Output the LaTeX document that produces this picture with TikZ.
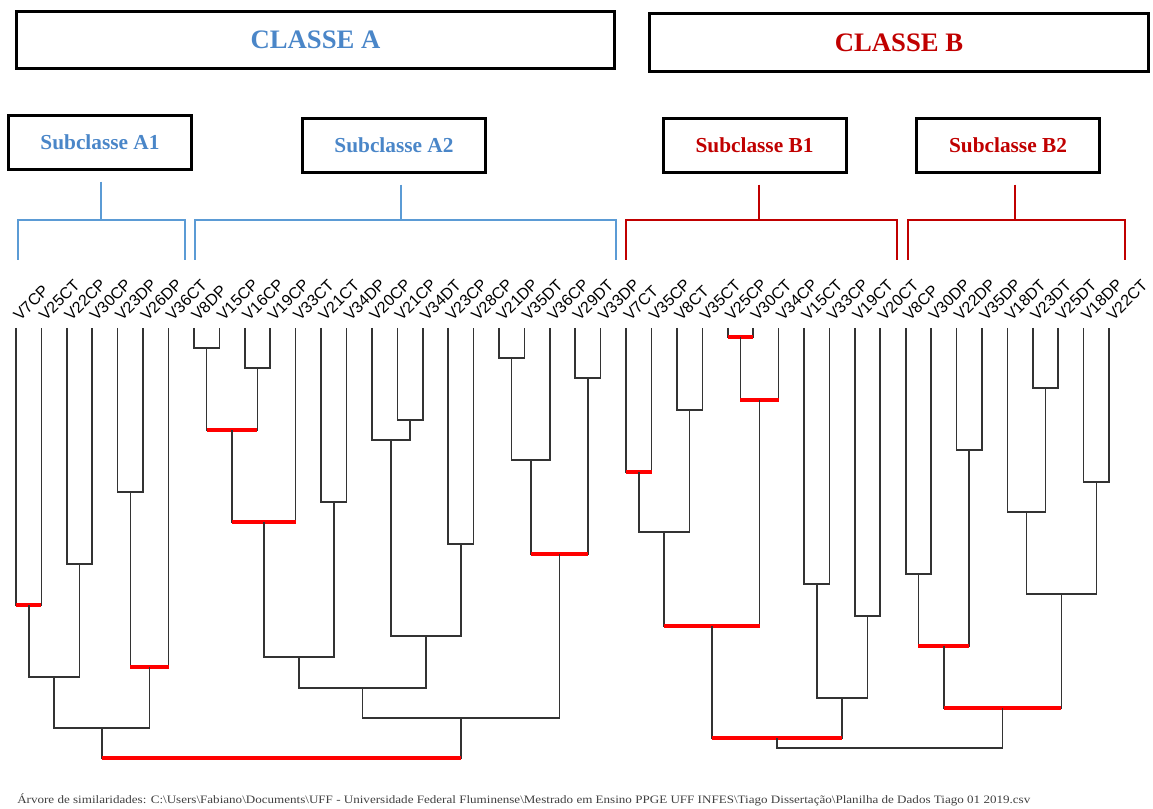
\documentclass[tikz,border=0pt]{standalone}
\usepackage{fontspec}
\setmainfont{Liberation Serif}
\newfontfamily\lblfont{Liberation Sans}
\usetikzlibrary{calc}
\definecolor{ablue}{HTML}{4A86C8}
\definecolor{bblue}{HTML}{5B9BD5}
\definecolor{cred}{HTML}{C00000}
\definecolor{tgray}{HTML}{333333}
\definecolor{ftgray}{HTML}{404040}
\newcommand\mrg[4]{%
  \coordinate (#3) at ($(#1 |- 0,#4)!0.5!(#2 |- 0,#4)$);
  \draw[tree] (#1) |- (#3) -| (#2);}
\newcommand\mrgr[4]{\mrg{#1}{#2}{#3}{#4}\draw[redbar] (#1 |- #3) -- (#2 |- #3);}
\begin{document}
\begin{tikzpicture}[x=0.75pt,y=-0.75pt,
  tree/.style={draw=tgray,line width=1.2pt},
  redbar/.style={draw=red,line width=3pt},
  hbox/.style={draw=black,line width=2.25pt,inner sep=0pt,font=\bfseries\fontsize{20}{24}\selectfont},
  sbox/.style={draw=black,line width=2.25pt,minimum width=137.25pt,minimum height=40.5pt,inner sep=0pt,font=\bfseries\fontsize{16}{19}\selectfont},
  lbl/.style={font=\lblfont\fontsize{12}{14}\selectfont,rotate=45,anchor=base west,inner sep=0pt},
  brA/.style={draw=bblue,line width=2pt},
  brB/.style={draw=cred,line width=2pt}]
\path[use as bounding box] (0,0) rectangle (1153,809);
% headers
\node[hbox,minimum width=448.5pt,minimum height=42.75pt,text=ablue] (CA) at (315.5,40) {CLASSE A};
\node[hbox,minimum width=374.25pt,minimum height=43.5pt,text=cred] (CB) at (899,42.5) {CLASSE B};
\node[sbox,text=ablue] (SA1) at (100,142.5) {Subclasse A1};
\node[sbox,text=ablue] (SA2) at (394,145.5) {Subclasse A2};
\node[sbox,text=cred] (SB1) at (754.5,145.5) {Subclasse B1};
\node[sbox,text=cred] (SB2) at (1008,145.5) {Subclasse B2};
% brackets
\coordinate (ka1) at (101,220); \coordinate (ka1L) at (18,260); \coordinate (ka1R) at (185,260);
\coordinate (ka2) at (401,220); \coordinate (ka2L) at (195,260); \coordinate (ka2R) at (616,260);
\coordinate (kb1) at (759,220); \coordinate (kb1L) at (626,260); \coordinate (kb1R) at (897,260);
\coordinate (kb2) at (1015,220); \coordinate (kb2L) at (908,260); \coordinate (kb2R) at (1125,260);
\draw[brA,shorten <=8pt] (SA1.south -| ka1) -- (ka1);
\draw[brA,shorten <=8pt] (SA2.south -| ka2) -- (ka2);
\draw[brB,shorten <=8pt] (SB1.south -| kb1) -- (kb1);
\draw[brB,shorten <=8pt] (SB2.south -| kb2) -- (kb2);
\draw[brA] (ka1L) |- (ka1) -| (ka1R);
\draw[brA] (ka2L) |- (ka2) -| (ka2R);
\draw[brB] (kb1L) |- (kb1) -| (kb1R);
\draw[brB] (kb2L) |- (kb2) -| (kb2R);
% leaves
\foreach \n [count=\i from 0] in {V7CP,V25CT,V22CP,V30CP,V23DP,V26DP,V36CT,V8DP,V15CP,V16CP,V19CP,V33CT,V21CT,V34DP,V20CP,V21CP,V34DT,V23CP,V28CP,V21DP,V35DT,V36CP,V29DT,V33DP,V7CT,V35CP,V8CT,V35CT,V25CP,V30CT,V34CP,V15CT,V33CP,V19CT,V20CT,V8CP,V30DP,V22DP,V35DP,V18DT,V23DT,V25DT,V18DP,V22CT}{
  \coordinate (l\i) at ({16+25.42*\i},328);
  \node[lbl] (t\i) at ({20+25.42*\i},322) {\n};
}
% class A1
\mrgr{l0}{l1}{a1}{605}
\mrg{l2}{l3}{a2}{564}
\mrg{l4}{l5}{a3}{492}
\mrgr{a3}{l6}{a4}{667}
\mrg{a1}{a2}{a5}{677}
\mrg{a5}{a4}{a6}{728}
% class A2
\mrg{l7}{l8}{b1}{348}
\mrg{l9}{l10}{b2}{368}
\mrgr{b1}{b2}{b3}{430}
\mrgr{b3}{l11}{b4}{522}
\mrg{l12}{l13}{b5}{502}
\mrg{b4}{b5}{b6}{657}
\mrg{l15}{l16}{b7}{420}
\mrg{l14}{b7}{b8}{440}
\mrg{l17}{l18}{b9}{544}
\mrg{b8}{b9}{b10}{636}
\mrg{b6}{b10}{b11}{688}
\mrg{l19}{l20}{b12}{358}
\mrg{b12}{l21}{b13}{460}
\mrg{l22}{l23}{b14}{378}
\mrgr{b13}{b14}{b15}{554}
\mrg{b11}{b15}{b16}{718}
\mrgr{a6}{b16}{ra}{758}
% class B1
\mrgr{l28}{l29}{c1}{337}
\mrgr{c1}{l30}{c2}{400}
\mrgr{l24}{l25}{c3}{472}
\mrg{l26}{l27}{c4}{410}
\mrg{c3}{c4}{c5}{532}
\mrgr{c5}{c2}{c6}{626}
\mrg{l31}{l32}{c7}{584}
\mrg{l33}{l34}{c8}{616}
\mrg{c7}{c8}{c9}{698}
\mrgr{c6}{c9}{c10}{738}
% class B2
\mrg{l35}{l36}{d1}{574}
\mrg{l37}{l38}{d2}{450}
\mrgr{d1}{d2}{d3}{646}
\mrg{l40}{l41}{d4}{388}
\mrg{l39}{d4}{d5}{512}
\mrg{l42}{l43}{d6}{482}
\mrg{d5}{d6}{d7}{594}
\mrgr{d3}{d7}{d8}{708}
\mrg{c10}{d8}{rb}{748}
% footer
\node[anchor=base west,inner sep=0pt,text=ftgray,font=\fontsize{8.5}{10}\selectfont] (foot) at (17,803)
  {\resizebox{759.75pt}{\height}{Árvore de similaridades: C:\textbackslash Users\textbackslash Fabiano\textbackslash Documents\textbackslash UFF - Universidade Federal Fluminense\textbackslash Mestrado em Ensino PPGE UFF INFES\textbackslash Tiago Dissertação\textbackslash Planilha de Dados Tiago 01 2019.csv}};
\end{tikzpicture}
\end{document}
